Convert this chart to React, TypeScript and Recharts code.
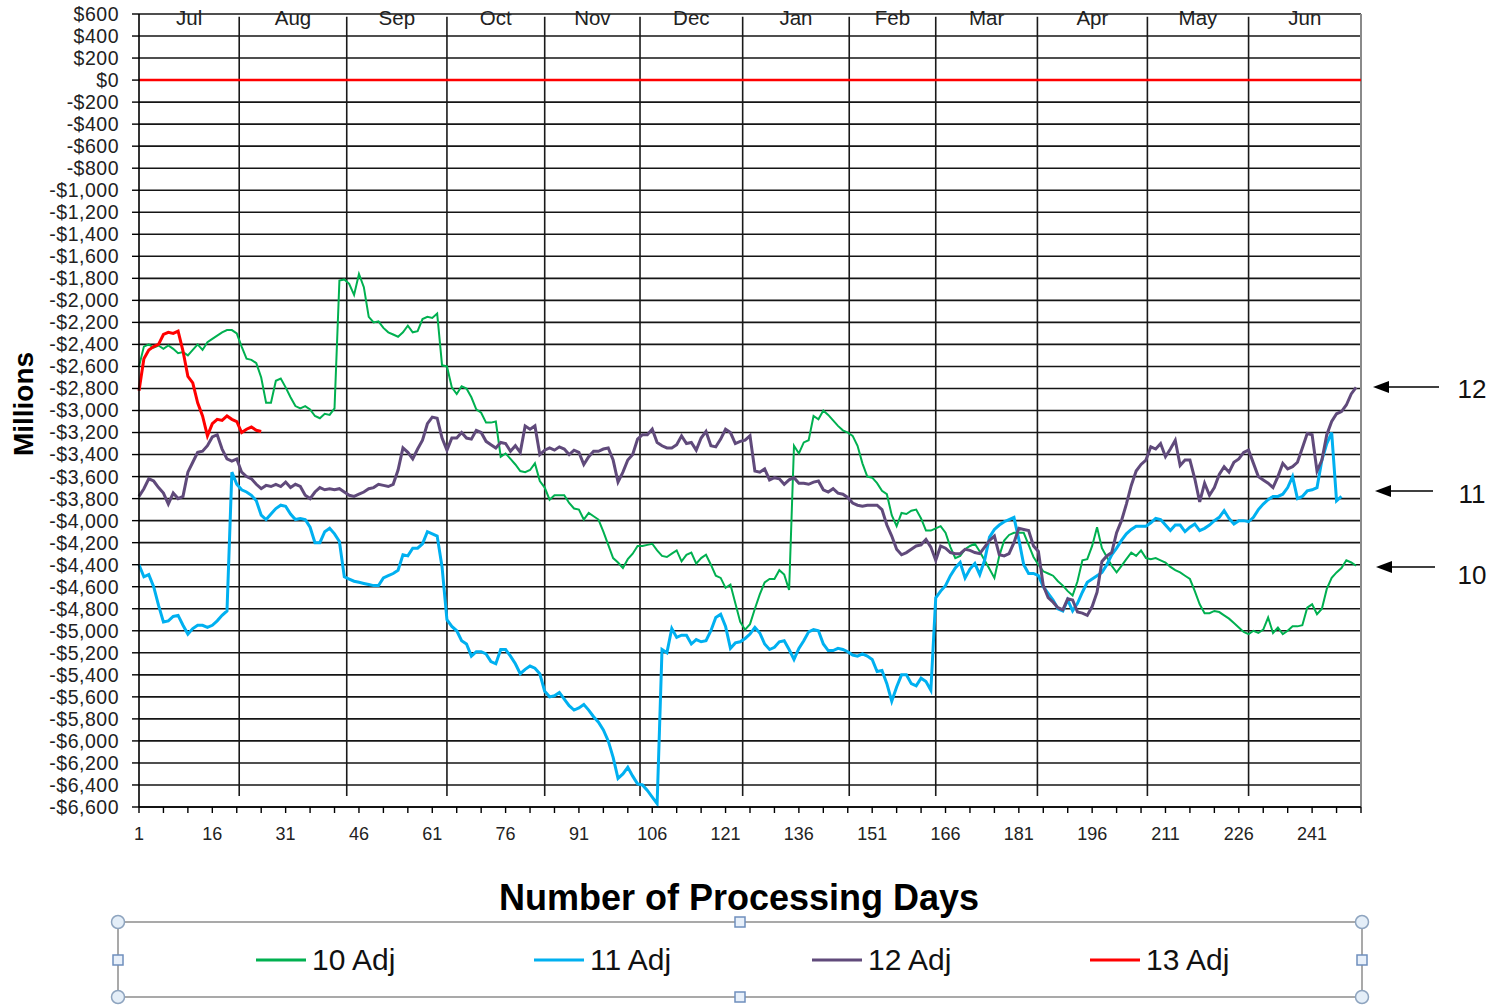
import { LineChart, Line, XAxis, YAxis, CartesianGrid, ReferenceLine, Legend } from 'recharts'

// processing-day values, $ millions
const adj10 = [
  -2600, -2420, -2400, -2430, -2410, -2440, -2410, -2440, -2480, -2470,
  -2500, -2450, -2400, -2450, -2380, -2350, -2320, -2290, -2270, -2270,
  -2300, -2420, -2530, -2540, -2570, -2700, -2930, -2930, -2730, -2710,
  -2790, -2880, -2960, -2980, -2960, -2990, -3050, -3070, -3030, -3040,
  -2980, -1820, -1810, -1850, -1950, -1760, -1880, -2150, -2200, -2190,
  -2250, -2290, -2310, -2330, -2290, -2230, -2290, -2280, -2170, -2150,
  -2160, -2120, -2590, -2600, -2790, -2850, -2780, -2800, -2880, -2990,
  -3020, -3110, -3110, -3100, -3420, -3390, -3440, -3490, -3550, -3560,
  -3540, -3480, -3640, -3700, -3810, -3770, -3770, -3770, -3840, -3890,
  -3900, -3990, -3930, -3960, -3990, -4100, -4220, -4340, -4380, -4430,
  -4350, -4300, -4230, -4230, -4220, -4210, -4270, -4320, -4330, -4300,
  -4270, -4370, -4310, -4290, -4390, -4340, -4310, -4400, -4500, -4520,
  -4610, -4580, -4750, -4920, -4990, -4940, -4800, -4670, -4560, -4530,
  -4530, -4450, -4490, -4630, -3320, -3390, -3290, -3270, -3050, -3080,
  -3000, -3040, -3090, -3140, -3180, -3200, -3230, -3320, -3480, -3600,
  -3610, -3660, -3730, -3760, -3950, -4050, -3930, -3940, -3910, -3900,
  -3980, -4090, -4090, -4070, -4050, -4110, -4240, -4340, -4320, -4260,
  -4230, -4210, -4280, -4360, -4440, -4520, -4320, -4180, -4130, -4110,
  -4110, -4110, -4220, -4330, -4400, -4460, -4480, -4500, -4550, -4590,
  -4640, -4680, -4550, -4360, -4350, -4230, -4060, -4250, -4330, -4410,
  -4470, -4410, -4350, -4290, -4320, -4270, -4340, -4350, -4340, -4360,
  -4380, -4420, -4450, -4470, -4500, -4530, -4640, -4760, -4840, -4840,
  -4820, -4830, -4860, -4890, -4930, -4970, -5010, -5030, -5000, -5020,
  -4990, -4880, -5020, -4970, -5030, -5000, -4960, -4960, -4950, -4790,
  -4760, -4850, -4800, -4620, -4520, -4470, -4430, -4360, -4380, -4410,
]

const adj11 = [
  -4400, -4510, -4490, -4600, -4770, -4920, -4910, -4870, -4860, -4950,
  -5030, -4980, -4950, -4950, -4970, -4950, -4910, -4860, -4820, -3560,
  -3670, -3720, -3740, -3770, -3820, -3950, -3990, -3940, -3890, -3860,
  -3870, -3940, -3990, -3980, -3990, -4060, -4200, -4200, -4100, -4070,
  -4120, -4190, -4510, -4530, -4550, -4560, -4570, -4580, -4590, -4590,
  -4520, -4500, -4480, -4450, -4310, -4320, -4250, -4250, -4210, -4100,
  -4120, -4140, -4420, -4900, -4960, -5000, -5090, -5120, -5230, -5190,
  -5190, -5210, -5280, -5300, -5170, -5170, -5230, -5300, -5390, -5350,
  -5320, -5340, -5390, -5550, -5600, -5590, -5560, -5620, -5680, -5720,
  -5700, -5670, -5720, -5780, -5830, -5900, -6000, -6150, -6340, -6300,
  -6240, -6320, -6390, -6400, -6450, -6510, -6570, -5170, -5200, -4980,
  -5060, -5040, -5040, -5120, -5080, -5100, -5090, -5000, -4880, -4850,
  -4960, -5160, -5110, -5100, -5070, -5030, -4970, -5020, -5120, -5170,
  -5150, -5100, -5090, -5170, -5260, -5160, -5090, -5010, -4990, -5000,
  -5120, -5180, -5180, -5160, -5170, -5190, -5220, -5230, -5210, -5230,
  -5260, -5370, -5360, -5480, -5640, -5510, -5400, -5400, -5480, -5500,
  -5430, -5460, -5540, -4700, -4640, -4590, -4500, -4430, -4380, -4520,
  -4440, -4390, -4490, -4360, -4150, -4080, -4040, -4010, -3990, -3970,
  -4170, -4400, -4480, -4480, -4500, -4600, -4660, -4720, -4800, -4820,
  -4720, -4820, -4750, -4650, -4560, -4530, -4500, -4470, -4400, -4310,
  -4250, -4180, -4120, -4080, -4050, -4050, -4050, -4020, -3980, -3990,
  -4040, -4090, -4040, -4040, -4100, -4060, -4030, -4090, -4070, -4040,
  -4000, -3970, -3910, -3980, -4030, -4000, -4000, -4010, -3970, -3900,
  -3850, -3810, -3780, -3780, -3760, -3700, -3600, -3800, -3780, -3730,
  -3720, -3700, -3450, -3300, -3200, -3820, -3780,
]

const adj12 = [
  -3780, -3710, -3620, -3640, -3700, -3750, -3850, -3750, -3800, -3780,
  -3560, -3470, -3380, -3370, -3320, -3240, -3220, -3350, -3440, -3460,
  -3440, -3560, -3600, -3620, -3670, -3710, -3680, -3690, -3670, -3690,
  -3650, -3700, -3670, -3690, -3770, -3800, -3740, -3700, -3720, -3710,
  -3720, -3710, -3740, -3770, -3780, -3760, -3740, -3710, -3700, -3670,
  -3680, -3690, -3670, -3540, -3340, -3380, -3440, -3350, -3270, -3120,
  -3060, -3070, -3250, -3360, -3250, -3250, -3200, -3250, -3260, -3180,
  -3200, -3280, -3310, -3340, -3290, -3300, -3370, -3320, -3380, -3140,
  -3170, -3140, -3400, -3360, -3340, -3360, -3330, -3350, -3400, -3360,
  -3380, -3490, -3420, -3370, -3370, -3350, -3340, -3450, -3650, -3560,
  -3450, -3400, -3260, -3220, -3220, -3170, -3290, -3320, -3340, -3340,
  -3310, -3230, -3300, -3290, -3360, -3250, -3190, -3320, -3330, -3260,
  -3170, -3200, -3300, -3280, -3270, -3230, -3550, -3560, -3530, -3630,
  -3610, -3620, -3670, -3630, -3610, -3660, -3660, -3670, -3650, -3640,
  -3720, -3740, -3710, -3750, -3760, -3790, -3840, -3860, -3870, -3860,
  -3860, -3860, -3900, -4040, -4140, -4260, -4310, -4290, -4260, -4230,
  -4220, -4170, -4240, -4360, -4230, -4250, -4290, -4300, -4300, -4260,
  -4270, -4290, -4300, -4240, -4180, -4140, -4310, -4320, -4300, -4200,
  -4070, -4080, -4090, -4230, -4280, -4590, -4700, -4740, -4790, -4810,
  -4710, -4720, -4830, -4840, -4860, -4780, -4650, -4370, -4320, -4290,
  -4110, -4000, -3850, -3680, -3550, -3490, -3450, -3330, -3350, -3300,
  -3420, -3350, -3270, -3500, -3450, -3450, -3620, -3830, -3660, -3770,
  -3700, -3580, -3510, -3560, -3470, -3440, -3380, -3360, -3480, -3600,
  -3630, -3660, -3700, -3600, -3480, -3530, -3510, -3470, -3340, -3210,
  -3220, -3550, -3450, -3220, -3100, -3030, -3010, -2950, -2850, -2790,
]

const adj13 = [
  -2820, -2530, -2450, -2420, -2400, -2310, -2290, -2300, -2280, -2460,
  -2690, -2750, -2930, -3050, -3230, -3120, -3080, -3090, -3050, -3080,
  -3100, -3200, -3170, -3150, -3180, -3190,
]

const seriesNames = ['10 Adj', '11 Adj', '12 Adj', '13 Adj']
const months = ['Jul', 'Aug', 'Sep', 'Oct', 'Nov', 'Dec', 'Jan', 'Feb', 'Mar', 'Apr', 'May', 'Jun']
// processing day on which each month begins
const monthStarts = [1, 21.5, 43.5, 64, 84, 103.5, 124.5, 146.3, 164, 184.8, 207.3, 228]
const lastDay = 251

const yTicks = [
  600, 400, 200, 0, -200, -400, -600, -800, -1000, -1200, -1400, -1600, -1800,
  -2000, -2200, -2400, -2600, -2800, -3000, -3200, -3400, -3600, -3800, -4000,
  -4200, -4400, -4600, -4800, -5000, -5200, -5400, -5600, -5800, -6000, -6200,
  -6400, -6600,
]
const xLabelTicks = [1, 16, 31, 46, 61, 76, 91, 106, 121, 136, 151, 166, 181, 196, 211, 226, 241]
const xTicks = xLabelTicks.flatMap(t => [t, t + 5, t + 10])

// arrows on the right point at where each year ends
const endNotes = [
  { label: '12', y: 387, tip: 1373, tail: 1439, ty: 389 },
  { label: '11', y: 491, tip: 1375, tail: 1433, ty: 494 },
  { label: '10', y: 567, tip: 1376, tail: 1435, ty: 575 },
]

const data = adj10.map((v, i) => ({
  day: i + 1,
  a10: v,
  a11: adj11[i] ?? null,
  a12: adj12[i] ?? null,
  a13: adj13[i] ?? null,
}))

const FONT = '"Liberation Sans", Arial, sans-serif'

const money = (v: number) => (v < 0 ? '-$' : '$') + Math.abs(v).toLocaleString('en-US')

function LegendBox({ payload }: any) {
  const corners = [[8, 8], [1252, 8], [8, 83], [1252, 83]]
  const mids = [[630, 8], [630, 83], [8, 46], [1252, 46]]
  return (
    <svg width={1262} height={94} style={{ display: 'block' }}>
      <rect x={8} y={8} width={1244} height={75} fill="none" stroke="#a9a9a9" strokeWidth={2} />
      {(payload || []).map((p: any, i: number) => {
        const x0 = 146 + i * 278
        return (
          <g key={p.value}>
            <line x1={x0} x2={x0 + 50} y1={46} y2={46} stroke={p.color} strokeWidth={3} />
            <text x={x0 + 56} y={56} fontSize={30} fill="#111" fontFamily={FONT}>{p.value}</text>
          </g>
        )
      })}
      {corners.map(([cx, cy], i) => (
        <circle key={'c' + i} cx={cx} cy={cy} r={6.5} fill="#e4eef8" stroke="#8ea4bf" strokeWidth={1.5} />
      ))}
      {mids.map(([cx, cy], i) => (
        <rect key={'m' + i} x={cx - 5} y={cy - 5} width={10} height={10} fill="#e8f0fa" stroke="#6f8fbd" strokeWidth={1.5} />
      ))}
    </svg>
  )
}

export default function App() {
  return (
    <div style={{ position: 'absolute', left: 0, top: 0, width: 1494, height: 1007, background: '#fff', fontFamily: FONT }}>
      <LineChart width={1494} height={1007} data={data} margin={{ top: 14, right: 133, bottom: 160, left: 0 }}>
        <CartesianGrid vertical={false} stroke="#151515" strokeWidth={1.6} />
        <XAxis
          dataKey="day"
          type="number"
          domain={[1, lastDay]}
          ticks={xTicks}
          interval={0}
          height={40}
          tickFormatter={(v: number) => (xLabelTicks.includes(v) ? String(v) : '')}
          tick={{ fontSize: 18, fill: '#222' }}
          tickSize={6}
          tickMargin={14}
          axisLine={{ stroke: '#000', strokeWidth: 1.6 }}
          tickLine={{ stroke: '#000', strokeWidth: 1.4 }}
          label={{
            content: (p: any) => (
              <text
                x={p.viewBox.x + p.viewBox.width / 2 - 11}
                y={p.viewBox.y + 103}
                textAnchor="middle"
                fontSize={36}
                fontWeight="bold"
                fill="#000"
              >
                Number of Processing Days
              </text>
            ),
          }}
        />
        <YAxis
          type="number"
          domain={[-6600, 600]}
          ticks={yTicks}
          interval={0}
          width={139}
          tickFormatter={money}
          tick={{ fontSize: 19.5, fill: '#222', letterSpacing: 0.5 }}
          tickSize={7}
          tickMargin={13}
          axisLine={{ stroke: '#000', strokeWidth: 1.6 }}
          tickLine={{ stroke: '#000', strokeWidth: 1.4 }}
          label={{
            content: () => (
              <text x={33} y={404} transform="rotate(-90 33 404)" textAnchor="middle" fontSize={28} fontWeight="bold" fill="#000">
                Millions
              </text>
            ),
          }}
        />
        {monthStarts.slice(1).map(d => (
          <ReferenceLine key={'m' + d} segment={[{ x: d, y: 575 }, { x: d, y: -6500 }]} stroke="#1a1a1a" strokeWidth={1.6} />
        ))}
        {months.map((m, i) => {
          const mid = (monthStarts[i] + (monthStarts[i + 1] ?? lastDay)) / 2
          return (
            <ReferenceLine
              key={m}
              x={mid}
              stroke="none"
              label={{
                content: (p: any) => (
                  <text x={p.viewBox.x} y={25} textAnchor="middle" fontSize={20.5} fill="#222">{m}</text>
                ),
              }}
            />
          )
        })}
        <ReferenceLine x={lastDay} stroke="#8a8a8a" strokeWidth={2} />
        <ReferenceLine y={0} stroke="#ff0000" strokeWidth={2.5} />
        <Line type="linear" dataKey="a10" name={seriesNames[0]} stroke="#00b050" strokeWidth={2} dot={false} activeDot={false} isAnimationActive={false} />
        <Line type="linear" dataKey="a11" name={seriesNames[1]} stroke="#00b0f0" strokeWidth={3} dot={false} activeDot={false} isAnimationActive={false} />
        <Line type="linear" dataKey="a12" name={seriesNames[2]} stroke="#604a7b" strokeWidth={3} dot={false} activeDot={false} isAnimationActive={false} />
        <Line type="linear" dataKey="a13" name={seriesNames[3]} stroke="#ff0000" strokeWidth={3} dot={false} activeDot={false} isAnimationActive={false} />
        <Legend
          layout="horizontal"
          verticalAlign="middle"
          align="center"
          content={LegendBox}
          wrapperStyle={{ top: 914, left: 110, width: 1262, height: 94 }}
        />
      </LineChart>
      <svg width={1494} height={1007} style={{ position: 'absolute', left: 0, top: 0, pointerEvents: 'none' }}>
        {endNotes.map(n => (
          <g key={n.label}>
            <line x1={n.tip + 12} x2={n.tail} y1={n.y} y2={n.y} stroke="#000" strokeWidth={1.6} />
            <polygon points={`${n.tip},${n.y} ${n.tip + 16},${n.y - 6} ${n.tip + 16},${n.y + 6}`} fill="#000" />
            <text x={1472} y={n.ty + 9} textAnchor="middle" fontSize={26} fill="#111" fontFamily={FONT}>{n.label}</text>
          </g>
        ))}
      </svg>
    </div>
  )
}
